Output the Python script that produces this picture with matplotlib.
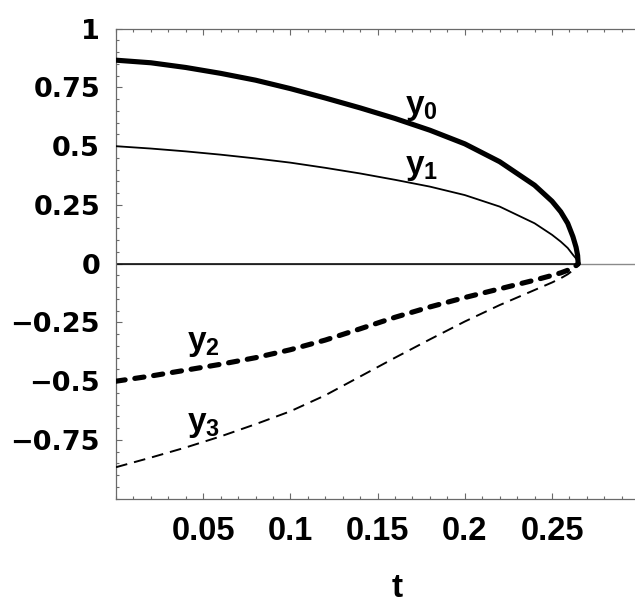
import matplotlib
matplotlib.use("Agg")
import matplotlib.pyplot as plt
from matplotlib.ticker import MultipleLocator, FixedLocator

# ---- data ----
t = [0.0, 0.02, 0.04, 0.06, 0.08, 0.10, 0.12, 0.14, 0.16, 0.18, 0.20, 0.22, 0.24,
     0.25, 0.255, 0.259, 0.262, 0.2638, 0.2647, 0.265]
y0 = [0.866, 0.855, 0.835, 0.810, 0.781, 0.745, 0.705, 0.663, 0.618, 0.568, 0.510, 0.434, 0.334,
      0.266, 0.221, 0.172, 0.115, 0.070, 0.035, 0.0]
y1 = [0.500, 0.490, 0.478, 0.464, 0.448, 0.430, 0.408, 0.384, 0.357, 0.328, 0.292, 0.243, 0.172,
      0.123, 0.094, 0.067, 0.038, 0.022, 0.010, 0.0]
y2 = [-0.500, -0.478, -0.453, -0.428, -0.400, -0.366, -0.325, -0.277, -0.228, -0.184, -0.144, -0.107, -0.070,
      -0.050, -0.039, -0.028, -0.016, -0.008, -0.003, 0.0]
y3 = [-0.866, -0.825, -0.782, -0.735, -0.683, -0.628, -0.560, -0.480, -0.400, -0.322, -0.246, -0.176, -0.112,
      -0.080, -0.062, -0.045, -0.028, -0.016, -0.006, 0.0]
zero_t = [0.0, 0.265]
zero_y = [0.0, 0.0]

ytick_vals = [1.0, 0.75, 0.5, 0.25, 0.0, -0.25, -0.5, -0.75]
ytick_labels = ["1", "0.75", "0.5", "0.25", "0", "\u22120.25", "\u22120.5", "\u22120.75"]
xtick_vals = [0.05, 0.1, 0.15, 0.2, 0.25]
xtick_labels = ["0.05", "0.1", "0.15", "0.2", "0.25"]
curve_labels = ["0", "1", "2", "3"]
label_pos = [(0.175, 0.67), (0.175, 0.415), (0.05, -0.335), (0.05, -0.68)]

plt.rcParams['mathtext.fontset'] = 'custom'
plt.rcParams['mathtext.rm'] = 'Liberation Sans:bold'
plt.rcParams['mathtext.bf'] = 'Liberation Sans:bold'
plt.rcParams['mathtext.it'] = 'Liberation Sans:bold'

W, H = 635, 603
fig = plt.figure(figsize=(W / 100, H / 100), dpi=100)
left = 116 / W
bottom = (H - 498.7) / H
width = (0.3 * 1744) / W
height = (498.7 - 28.7) / H
ax = fig.add_axes([left, bottom, width, height])
ax.set_xlim(0, 0.3)
ax.set_ylim(-1, 1)

spine_col = '#6a6a6a'
ax.axhline(0, color='#8a8a8a', lw=1.0, zorder=1)
ax.plot(zero_t, zero_y, color='black', lw=1.1, zorder=2)

ax.plot(t, y0, color='black', lw=3.7, solid_capstyle='round', solid_joinstyle='round', zorder=3)
ax.plot(t, y1, color='black', lw=1.3, solid_joinstyle='round', zorder=3)
ax.plot(t, y2, color='black', lw=3.7, linestyle=(0, (1.8, 1.9)),
        dash_capstyle='round', zorder=3)
ax.plot(t, y3, color='black', lw=1.4, linestyle=(0, (6.0, 3.6)), zorder=3)

for lab, (tx, ty) in zip(curve_labels, label_pos):
    ax.text(tx, ty, r'$\mathbf{y}_{\mathbf{%s}}$' % lab, fontsize=24,
            ha='center', va='center', color='black')

for s in ['left', 'bottom', 'top']:
    ax.spines[s].set_color(spine_col)
    ax.spines[s].set_linewidth(0.9)
ax.spines['right'].set_visible(False)

ax.yaxis.set_major_locator(FixedLocator(ytick_vals))
ax.set_yticklabels(ytick_labels, fontfamily='DejaVu Sans', fontweight='bold', fontsize=19.5)
ax.yaxis.set_minor_locator(MultipleLocator(0.05))
ax.xaxis.set_major_locator(FixedLocator(xtick_vals))
ax.set_xticklabels(xtick_labels, fontfamily='Liberation Sans', fontweight='bold', fontsize=23.5)
ax.xaxis.set_minor_locator(MultipleLocator(0.01))

ax.tick_params(which='both', direction='in', color=spine_col, width=0.8,
               top=True, right=False, labeltop=False, labelright=False)
ax.tick_params(which='major', length=4)
ax.tick_params(which='minor', length=2.2)
ax.tick_params(axis='y', which='major', pad=11.5)
ax.tick_params(axis='x', which='major', pad=12.5)

fig.text(396.7 / W, 1 - 597 / H, 't', fontfamily='Liberation Sans', fontweight='bold',
         fontsize=24, ha='center', va='baseline')

fig.savefig('out.png', dpi=100)
